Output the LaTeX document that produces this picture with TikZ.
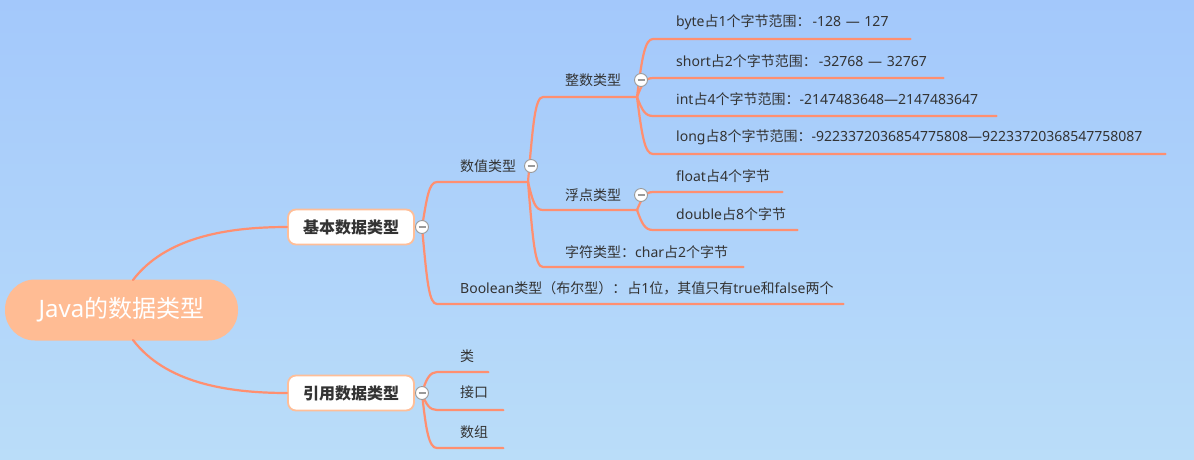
\documentclass[tikz,border=0pt]{standalone}
\usepackage{fontspec}
\setmainfont{Noto Sans CJK SC}
\newfontfamily\lt{Noto Sans}
\usetikzlibrary{calc}
\definecolor{bgtop}{HTML}{A3C8FB}
\definecolor{bgbot}{HTML}{BADDF9}
\definecolor{linec}{HTML}{FF8F70}
\definecolor{boxb}{HTML}{FFBE98}
\definecolor{rootf}{HTML}{FFBC94}
\definecolor{txt}{HTML}{333333}
\definecolor{iconc}{HTML}{9A9A9A}
\tikzset{
  conn/.style={draw=linec, line width=2.2pt, line cap=round},
  leaf/.style={anchor=west, inner xsep=0pt, inner ysep=0pt, align=left, text=txt, font=\fontsize{14}{16}\selectfont},
  mainbox/.style={draw=boxb, line width=1.8pt, fill=white, rounded corners=8pt, minimum width=126pt, minimum height=35pt, inner sep=0pt, text=txt, font=\fontsize{16}{18}\selectfont\bfseries},
  rootbox/.style={fill=rootf, rounded corners=30pt, minimum width=233pt, minimum height=61pt, inner sep=0pt, text=white, font=\fontsize{24}{26}\selectfont},
  fold/.style={circle, draw=iconc, line width=0.9pt, fill=white, minimum size=13pt, inner sep=0pt,
    path picture={\draw[iconc, line width=1.3pt] ([xshift=-3.5pt]path picture bounding box.center) -- ([xshift=3.5pt]path picture bounding box.center);}},
}
\begin{document}
\begin{tikzpicture}[x=1pt,y=-1pt]
\shade[top color=bgtop, bottom color=bgbot] (0,0) rectangle (1194,459);
\useasboundingbox (0,0) rectangle (1194,459);

% root and main branches
\node[rootbox] (root) at (121.5,310) {{\lt Java}的数据类型};
\node[mainbox] (basic) at (351,227) {基本数据类型};
\node[mainbox] (ref) at (351,393) {引用数据类型};
\draw[conn] (133,280) .. controls (165,238) and (225,227) .. (basic.west);
\draw[conn] (133,340) .. controls (165,382) and (225,393) .. (ref.west);

% origins
\coordinate (oB) at (422,227);
\coordinate (oR) at (422,393);
\coordinate (oN) at (528,182);
\coordinate (oI) at (637,97);
\coordinate (oF) at (637,210);

% level 2 text nodes
\node[leaf, text width=68pt] (num) at (460,166) {数值类型};
\node[leaf, text width=383pt] (bool) at (460,288) {{\lt Boolean}类型（布尔型）：{\lt\hspace{1pt}}占{\lt 1}位，其值只有{\lt true}和{\lt false}两个};
\node[leaf, text width=28pt] (cls) at (460,356) {类};
\node[leaf, text width=43pt] (itf) at (460,392) {接口};
\node[leaf, text width=43pt] (arr) at (460,432) {数组};

% level 3
\node[leaf, text width=72pt] (int) at (565,80) {整数类型};
\node[leaf, text width=72pt] (flt) at (565,195) {浮点类型};
\node[leaf, text width=178pt] (chr) at (565,252) {字符类型：{\lt char}占{\lt 2}个字节};

% level 4
\node[leaf, text width=234pt] (byte) at (676,22) {{\lt byte}占{\lt 1}个字节范围：{\lt\hspace{2pt}-128 — 127}};
\node[leaf, text width=267pt] (short) at (676,61) {{\lt short}占{\lt 2}个字节范围：{\lt\hspace{2pt}-32768 — 32767}};
\node[leaf, text width=320pt] (intr) at (676,99) {{\lt int}占{\lt 4}个字节范围：{\lt -2147483648—2147483647}};
\node[leaf, text width=489pt] (long) at (676,137) {{\lt long}占{\lt 8}个字节范围：{\lt -9223372036854775808—92233720368547758087}};
\node[leaf, text width=106pt] (float) at (676,176) {{\lt float}占{\lt 4}个字节};
\node[leaf, text width=121pt] (double) at (676,214) {{\lt double}占{\lt 8}个字节};

% connectors from 基本
\draw[conn] (oB) .. controls +(5,-30) and +(-8,0) .. ([xshift=-23pt,yshift=-16pt]num.west) -- ([yshift=-16pt]num.east);
\draw[conn] (oB) .. controls +(5,55) and +(-8,0) .. ([xshift=-23pt,yshift=-16pt]bool.west) -- ([yshift=-16pt]bool.east);
% connectors from 引用
\draw[conn] (oR) .. controls +(4,-14) and +(-7,0) .. ([xshift=-23pt,yshift=-16pt]cls.west) -- ([yshift=-16pt]cls.east);
\draw[conn] (oR) .. controls +(4,12) and +(-7,0) .. ([xshift=-23pt,yshift=-18pt]itf.west) -- ([yshift=-18pt]itf.east);
\draw[conn] (oR) .. controls +(4,38) and +(-8,0) .. ([xshift=-23pt,yshift=-16pt]arr.west) -- ([yshift=-16pt]arr.east);
% connectors from 数值
\draw[conn] (oN) .. controls +(5,-58) and +(-8,0) .. ([xshift=-22pt,yshift=-17pt]int.west) -- ([yshift=-17pt]int.east);
\draw[conn] (oN) .. controls +(5,20) and +(-8,0) .. ([xshift=-22pt,yshift=-15pt]flt.west) -- ([yshift=-15pt]flt.east);
\draw[conn] (oN) .. controls +(5,60) and +(-8,0) .. ([xshift=-22pt,yshift=-15pt]chr.west) -- ([yshift=-15pt]chr.east);
% connectors from 整数
\draw[conn] (oI) .. controls +(5,-40) and +(-8,0) .. ([xshift=-23pt,yshift=-17pt]byte.west) -- ([yshift=-17pt]byte.east);
\draw[conn] (oI) .. controls +(5,-13) and +(-8,0) .. ([xshift=-23pt,yshift=-17pt]short.west) -- ([yshift=-17pt]short.east);
\draw[conn] (oI) .. controls +(5,13) and +(-8,0) .. ([xshift=-23pt,yshift=-17pt]intr.west) -- ([yshift=-17pt]intr.east);
\draw[conn] (oI) .. controls +(5,40) and +(-8,0) .. ([xshift=-23pt,yshift=-17pt]long.west) -- ([yshift=-17pt]long.east);
% connectors from 浮点
\draw[conn] (oF) .. controls +(5,-12) and +(-8,0) .. ([xshift=-23pt,yshift=-16pt]float.west) -- ([yshift=-16pt]float.east);
\draw[conn] (oF) .. controls +(5,14) and +(-8,0) .. ([xshift=-23pt,yshift=-16pt]double.west) -- ([yshift=-16pt]double.east);

% fold icons
\node[fold] (fB) at (422,227) {};
\node[fold] (fR) at (422,393) {};
\node[fold] (fN) at (531,166) {};
\node[fold] (fI) at (641,80) {};
\node[fold] (fF) at (641,195) {};
\end{tikzpicture}
\end{document}
